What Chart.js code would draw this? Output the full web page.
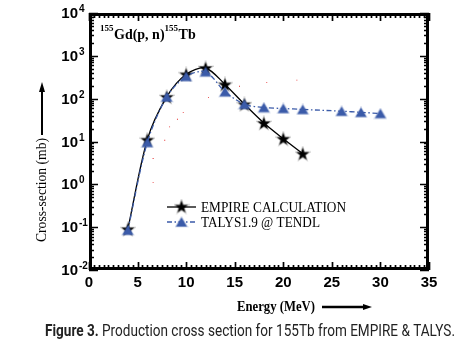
<!DOCTYPE html>
<html><head><meta charset="utf-8">
<script src="https://cdn.jsdelivr.net/npm/chart.js@4"></script>
<style>html,body{margin:0;padding:0;background:#fff}#c{display:block}</style>
</head><body>
<canvas id="c" width="467" height="356"></canvas>
<script>
// ---- data ----
const energyEmpire = [4, 6, 8, 10, 12, 14, 16, 18, 20, 22];
const xsEmpire     = [0.09, 11, 110, 370, 520, 215, 74, 27, 11.6, 5.2];
const energyTalys  = [4, 6, 8, 10, 12, 14, 16, 18, 20, 22, 26, 28, 30];
const xsTalys      = [0.085, 9.5, 110, 330, 425, 145, 74, 62, 59, 56, 51, 48, 45];
const energyDots   = [6.6, 6.6, 7.8, 8.3, 9.1, 9.7, 12.3, 15.5, 18.3, 21.4];
const xsDots       = [1.1, 4, 10.7, 22, 33, 48, 107, 195, 240, 270];
const xTickValues  = [0, 5, 10, 15, 20, 25, 30, 35];
const yTickExponents = [-2, -1, 0, 1, 2, 3, 4];
const seriesNames  = ['EMPIRE CALCULATION', 'TALYS1.9 @ TENDL'];
const xTitle = 'Energy (MeV)';
const yTitle = 'Cross-section (mb)';
const captionBold = 'Figure 3.';
const captionRest = ' Production cross section for 155Tb from EMPIRE & TALYS.';

const BLUE = '#3b5ba9';

function starImage() {
  const c = document.createElement('canvas');
  c.width = 16; c.height = 16;
  const g = c.getContext('2d');
  g.beginPath();
  for (let i = 0; i < 10; i++) {
    const r = i % 2 ? 2.7 : 6.6;
    const a = -Math.PI / 2 + i * Math.PI / 5;
    const px = 8 + r * Math.cos(a), py = 8.6 + r * Math.sin(a);
    i ? g.lineTo(px, py) : g.moveTo(px, py);
  }
  g.closePath();
  g.lineWidth = 1.6; g.strokeStyle = 'rgba(0,0,0,0.28)'; g.stroke();
  g.fillStyle = '#000'; g.fill();
  return c;
}
function triImage() {
  const c = document.createElement('canvas');
  c.width = 14; c.height = 12;
  const g = c.getContext('2d');
  g.beginPath(); g.moveTo(7, 1.5); g.lineTo(12.3, 10.5); g.lineTo(1.7, 10.5); g.closePath();
  g.lineWidth = 1.6; g.strokeStyle = 'rgba(59,91,169,0.35)'; g.stroke();
  g.fillStyle = BLUE; g.fill();
  return c;
}
const STAR = starImage(), TRI = triImage();

const decor = {
  id: 'decor',
  afterDraw(chart) {
    const ctx = chart.ctx, a = chart.chartArea;
    const xs = chart.scales.x, ys = chart.scales.y;
    ctx.save();
    ctx.fillStyle = '#000'; ctx.strokeStyle = '#000';
    // frame
    ctx.lineWidth = 3;
    ctx.strokeRect(a.left + 1.5, a.top + 1.5, a.right - a.left - 3, a.bottom - a.top - 3);
    // x ticks (inward, top and bottom)
    ctx.lineWidth = 1.7;
    for (let v = 0; v <= 35.001; v += 0.5) {
      const px = Math.round(xs.getPixelForValue(v)) + 0.5;
      const major = Math.abs(v / 5 - Math.round(v / 5)) < 1e-6;
      const len = major ? 8 : 5;
      ctx.beginPath();
      ctx.moveTo(px, a.bottom); ctx.lineTo(px, a.bottom - len);
      ctx.moveTo(px, a.top); ctx.lineTo(px, a.top + len);
      ctx.stroke();
    }
    // y ticks
    for (let e = -2; e <= 4; e++) {
      for (let m = 1; m <= 9; m++) {
        if (e === 4 && m > 1) break;
        const v = m * Math.pow(10, e);
        const py = Math.round(ys.getPixelForValue(v)) + 0.5;
        const len = m === 1 ? 9 : 5;
        ctx.beginPath();
        ctx.moveTo(a.left, py); ctx.lineTo(a.left + len, py);
        ctx.moveTo(a.right, py); ctx.lineTo(a.right - len, py);
        ctx.stroke();
      }
    }
    // x tick labels
    ctx.font = 'bold 15px "Liberation Sans", Arial, sans-serif';
    ctx.textAlign = 'center'; ctx.textBaseline = 'middle';
    xTickValues.forEach(v => ctx.fillText(String(v), xs.getPixelForValue(v), 283));
    // y tick labels with superscripts
    yTickExponents.forEach(e => {
      const py = ys.getPixelForValue(Math.pow(10, e));
      ctx.font = 'bold 15px "Liberation Sans", Arial, sans-serif';
      ctx.textAlign = 'right'; ctx.textBaseline = 'middle';
      ctx.fillText('10', 78, py + 1);
      ctx.font = 'bold 10px "Liberation Sans", Arial, sans-serif';
      ctx.textAlign = 'left'; ctx.textBaseline = 'alphabetic';
      ctx.fillText(String(e), 79, py - 1);
    });
    // reaction label
    ctx.textAlign = 'left'; ctx.textBaseline = 'alphabetic';
    let x = 100;
    const sup = (t) => { ctx.font = 'bold 9px "Liberation Serif", serif'; ctx.fillText(t, x, 31); x += ctx.measureText(t).width + 0.5; };
    const big = (t) => { ctx.font = 'bold 14px "Liberation Serif", serif'; ctx.fillText(t, x, 39); x += ctx.measureText(t).width; };
    sup('155'); big('Gd(p, n)'); sup('155'); big('Tb');
    // legend
    const leg = (i, y) => {
      ctx.save();
      ctx.lineWidth = 1.3;
      if (i === 0) { ctx.strokeStyle = '#000'; ctx.setLineDash([]); }
      else { ctx.strokeStyle = BLUE; ctx.setLineDash([5, 2.5, 1.5, 2.5]); }
      ctx.beginPath(); ctx.moveTo(167, y); ctx.lineTo(196, y); ctx.stroke();
      ctx.restore();
      const img = i === 0 ? STAR : TRI;
      ctx.drawImage(img, 181.5 - img.width / 2, y - img.height / 2 - (i === 0 ? 0.5 : 0));
      ctx.font = '14px "Liberation Serif", serif';
      ctx.textAlign = 'left'; ctx.textBaseline = 'middle';
      const target = i === 0 ? 145 : 119;
      const w = ctx.measureText(seriesNames[i]).width;
      ctx.save(); ctx.translate(201, y + 1); ctx.scale(target / w, 1);
      ctx.fillText(seriesNames[i], 0, 0); ctx.restore();
    };
    leg(0, 207); leg(1, 222);
    // y title + arrow
    ctx.save();
    ctx.translate(42, 190); ctx.rotate(-Math.PI / 2);
    ctx.font = '15px "Liberation Serif", serif';
    ctx.textAlign = 'center'; ctx.textBaseline = 'middle';
    const wy = ctx.measureText(yTitle).width;
    ctx.scale(104 / wy, 1);
    ctx.fillText(yTitle, 0, 0);
    ctx.restore();
    ctx.lineWidth = 2;
    ctx.beginPath(); ctx.moveTo(42, 135); ctx.lineTo(42, 90); ctx.stroke();
    ctx.beginPath(); ctx.moveTo(42, 82); ctx.lineTo(45, 92); ctx.lineTo(39, 92); ctx.closePath(); ctx.fill();
    // x title + arrow
    ctx.font = 'bold 14px "Liberation Serif", serif';
    ctx.textAlign = 'left'; ctx.textBaseline = 'middle';
    const wx = ctx.measureText(xTitle).width;
    ctx.save(); ctx.translate(237, 307); ctx.scale(78 / wx, 1); ctx.fillText(xTitle, 0, 0); ctx.restore();
    ctx.lineWidth = 2.5;
    ctx.beginPath(); ctx.moveTo(322, 307); ctx.lineTo(364, 307); ctx.stroke();
    ctx.beginPath(); ctx.moveTo(372, 307); ctx.lineTo(363, 304); ctx.lineTo(363, 310); ctx.closePath(); ctx.fill();
    // caption
    ctx.fillStyle = '#222';
    ctx.textBaseline = 'middle';
    ctx.font = 'bold 16px Roboto, "Liberation Sans", sans-serif';
    const wb = ctx.measureText(captionBold).width;
    ctx.font = '16px Roboto, "Liberation Sans", sans-serif';
    const wr = ctx.measureText(captionRest).width;
    const sc = 410 / (wb + wr);
    ctx.save(); ctx.translate(45, 332); ctx.scale(sc, 1);
    ctx.font = 'bold 16px Roboto, "Liberation Sans", sans-serif';
    ctx.fillText(captionBold, 0, 0);
    ctx.font = '16px Roboto, "Liberation Sans", sans-serif';
    ctx.fillText(captionRest, wb, 0);
    ctx.restore();
    ctx.restore();
  }
};

const toPts = (xsArr, ysArr) => xsArr.map((v, i) => ({ x: v, y: ysArr[i] }));

new Chart(document.getElementById('c'), {
  type: 'scatter',
  data: {
    datasets: [
      {
        label: seriesNames[1],
        data: toPts(energyTalys, xsTalys),
        showLine: true, borderColor: BLUE, borderWidth: 1.3,
        borderDash: [5, 2.5, 1.5, 2.5], tension: 0.3,
        pointStyle: TRI, pointRadius: 6, pointHoverRadius: 6
      },
      {
        label: seriesNames[0],
        data: toPts(energyEmpire, xsEmpire),
        showLine: true, borderColor: '#000', borderWidth: 1.3, tension: 0.3,
        pointStyle: STAR, pointRadius: 6, pointHoverRadius: 6
      },
      {
        label: 'dots',
        data: toPts(energyDots, xsDots),
        showLine: false, pointStyle: 'rect', pointRadius: 0.6,
        backgroundColor: '#e00000', borderWidth: 0
      }
    ]
  },
  options: {
    responsive: false, animation: false, devicePixelRatio: 1,
    layout: { padding: { left: 89, right: 38, top: 13, bottom: 86 } },
    plugins: { legend: { display: false }, tooltip: { enabled: false } },
    scales: {
      x: { type: 'linear', min: 0, max: 35, display: false },
      y: { type: 'logarithmic', min: 0.01, max: 10000, display: false }
    }
  },
  plugins: [decor]
});
</script>
</body></html>
